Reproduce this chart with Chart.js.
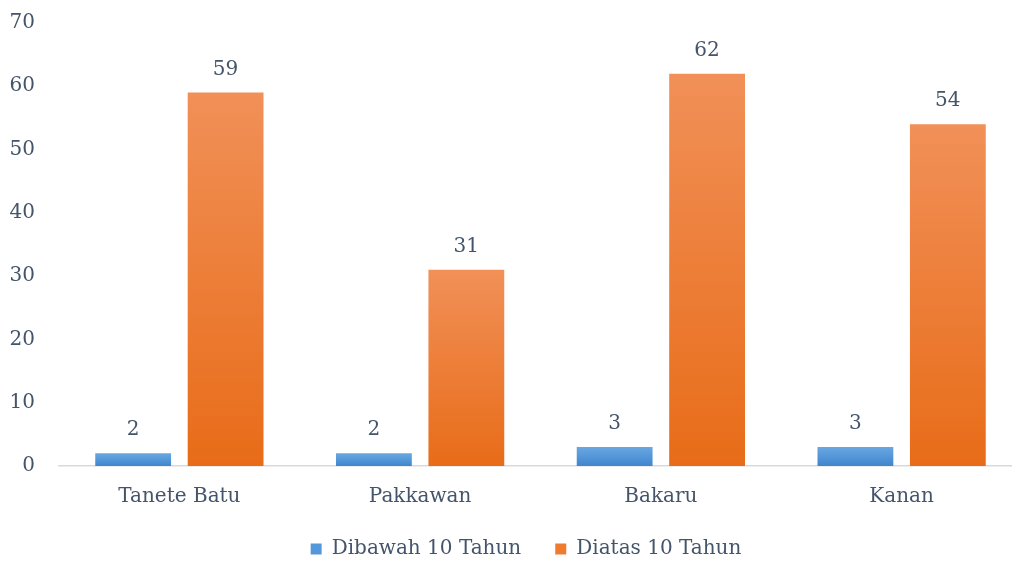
<!DOCTYPE html>
<html>
<head>
<meta charset="UTF-8">
<script src="https://cdn.jsdelivr.net/npm/chart.js"></script>
<style>
    body { margin: 0; overflow: hidden; background: #fff; }
    .wrap { width: 1040px; height: 565px; }
</style>
</head>
<body>
<div class="wrap"><canvas id="chart"></canvas></div>
<script>
    const categories = ['Tanete Batu', 'Pakkawan', 'Bakaru', 'Kanan'];
    const seriesNames = ['Dibawah 10 Tahun', 'Diatas 10 Tahun'];
    const dibawah = [2, 2, 3, 3];
    const diatas = [59, 31, 62, 54];
    const yTicks = [0, 10, 20, 30, 40, 50, 60, 70];

    const textColor = '#44546A';
    const fontFamily = '"DejaVu Serif", serif';

    // gradient per bar, lighter at the top
    function barGradient(top, bottom) {
        return function (ctx) {
            const chart = ctx.chart;
            const y = chart.scales.y;
            if (!y || ctx.parsed == null) return bottom;
            const y0 = y.getPixelForValue(ctx.parsed.y);
            const y1 = y.getPixelForValue(0);
            if (!isFinite(y0) || !isFinite(y1) || y0 === y1) return bottom;
            const g = chart.ctx.createLinearGradient(0, y0, 0, y1);
            g.addColorStop(0, top);
            g.addColorStop(1, bottom);
            return g;
        };
    }

    // numbers above bars + y tick labels (the scale clips its own labels to its box)
    const textPlugin = {
        id: 'textPlugin',
        afterDatasetsDraw(chart) {
            const ctx = chart.ctx;
            ctx.save();
            ctx.font = '20px ' + fontFamily;
            ctx.fillStyle = textColor;
            ctx.textAlign = 'center';
            ctx.textBaseline = 'alphabetic';
            chart.data.datasets.forEach((ds, i) => {
                chart.getDatasetMeta(i).data.forEach((bar, j) => {
                    ctx.fillText(ds.data[j], bar.x, bar.y - 18);
                });
            });
            const y = chart.scales.y;
            ctx.textAlign = 'right';
            ctx.textBaseline = 'middle';
            yTicks.forEach(v => {
                ctx.fillText(v, 35, y.getPixelForValue(v));
            });
            ctx.restore();
        }
    };

    new Chart(document.getElementById('chart'), {
        type: 'bar',
        data: {
            labels: categories,
            datasets: [
                {
                    label: seriesNames[0],
                    data: dibawah,
                    backgroundColor: barGradient('#6AA7E2', '#3F86CE')
                },
                {
                    label: seriesNames[1],
                    data: diatas,
                    backgroundColor: barGradient('#F19058', '#E86C18')
                }
            ]
        },
        options: {
            responsive: true,
            maintainAspectRatio: false,
            animation: false,
            categoryPercentage: 0.768,
            barPercentage: 0.82,
            layout: { padding: { top: 23, left: 30, right: 18, bottom: -4 } },
            plugins: {
                legend: {
                    position: 'bottom',
                    labels: {
                        color: textColor,
                        font: { family: fontFamily, size: 20 },
                        boxWidth: 11,
                        boxHeight: 11,
                        padding: 34,
                        generateLabels(chart) {
                            return chart.data.datasets.map((ds, i) => ({
                                text: ds.label,
                                fillStyle: i === 0 ? '#5497DA' : '#EE7B30',
                                strokeStyle: 'transparent',
                                lineWidth: 0,
                                fontColor: textColor,
                                datasetIndex: i
                            }));
                        }
                    }
                },
                tooltip: { enabled: false }
            },
            scales: {
                x: {
                    afterFit(scale) { scale.height = scale.height - 23; },
                    grid: { display: false, drawTicks: false },
                    border: { color: '#D9D9D9', width: 1.5 },
                    ticks: {
                        color: textColor,
                        font: { family: fontFamily, size: 20 },
                        padding: 19
                    }
                },
                y: {
                    min: 0,
                    max: 70,
                    afterBuildTicks(scale) {
                        scale.ticks = yTicks.map(v => ({ value: v }));
                    },
                    afterFit(scale) { scale.width = 29; },
                    grid: { display: false, drawTicks: false },
                    border: { display: false },
                    ticks: { display: false }
                }
            }
        },
        plugins: [textPlugin]
    });
</script>
</body>
</html>
